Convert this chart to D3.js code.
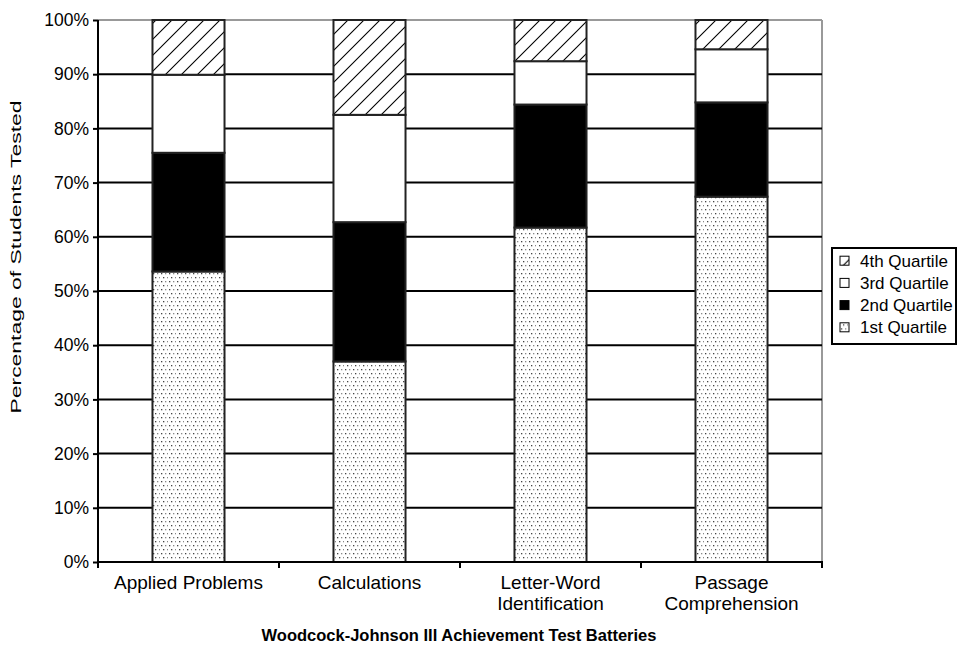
<!DOCTYPE html>
<html>
<head>
<meta charset="utf-8">
<script src="https://cdn.jsdelivr.net/npm/d3@7"></script>
<style>
  body { margin: 0; background: #fff; }
  svg { display: block; font-family: "Liberation Sans", Arial, sans-serif; }
</style>
</head>
<body>
<svg id="chart" width="959" height="645"></svg>
<script>
const categories = ["Applied Problems", "Calculations", "Letter-Word Identification", "Passage Comprehension"];
const categoryLines = [["Applied Problems"], ["Calculations"], ["Letter-Word", "Identification"], ["Passage", "Comprehension"]];
const quartile1 = [53.6, 37.0, 61.7, 67.4];
const quartile2 = [21.9, 25.7, 22.7, 17.4];
const quartile3 = [14.4, 19.8, 8.0, 9.8];
const quartile4 = [10.1, 17.5, 7.6, 5.4];
const seriesNames = ["1st Quartile", "2nd Quartile", "3rd Quartile", "4th Quartile"];
const yTicks = [0, 10, 20, 30, 40, 50, 60, 70, 80, 90, 100];
const yTitle = "Percentage of Students Tested";
const xTitle = "Woodcock-Johnson III Achievement Test Batteries";

(function () {
const svg = d3.select("#chart");
const mLeft = 98, mRight = 822, mTop = 20, mBottom = 562;

// patterns
const defs = svg.append("defs");
const hatch = defs.append("pattern").attr("id", "hatch").attr("patternUnits", "userSpaceOnUse")
  .attr("width", 16).attr("height", 16);
hatch.append("rect").attr("width", 16).attr("height", 16).attr("fill", "#fff");
hatch.append("path").attr("d", "M0,16 L16,0 M-4,4 L4,-4 M12,20 L20,12")
  .attr("stroke", "#000").attr("stroke-width", 1.1);
const dots = defs.append("pattern").attr("id", "dots").attr("patternUnits", "userSpaceOnUse")
  .attr("width", 8).attr("height", 8);
dots.append("rect").attr("width", 8).attr("height", 8).attr("fill", "#fff");
dots.append("rect").attr("x", 1).attr("y", 1).attr("width", 1.3).attr("height", 1.3).attr("fill", "#444");
dots.append("rect").attr("x", 5).attr("y", 1).attr("width", 1.3).attr("height", 1.3).attr("fill", "#888");
dots.append("rect").attr("x", 3).attr("y", 5).attr("width", 1.3).attr("height", 1.3).attr("fill", "#444");
dots.append("rect").attr("x", 7).attr("y", 5).attr("width", 1.3).attr("height", 1.3).attr("fill", "#888");

const fills = ["url(#dots)", "#000", "#fff", "url(#hatch)"];

const x = d3.scaleBand().domain(categories).range([mLeft, mRight]).paddingInner(0.602).paddingOuter(0.301);
const y = d3.scaleLinear().domain([0, 100]).range([mBottom, mTop]);

// plot border (grey top and right)
svg.append("line").attr("x1", mLeft).attr("x2", mRight).attr("y1", y(100)).attr("y2", y(100))
  .attr("stroke", "#999").attr("stroke-width", 2);
svg.append("line").attr("x1", mRight).attr("x2", mRight).attr("y1", y(100)).attr("y2", y(0))
  .attr("stroke", "#999").attr("stroke-width", 2);

// gridlines
svg.append("g").selectAll("line").data(yTicks.filter(d => d > 0 && d < 100)).join("line")
  .attr("x1", mLeft).attr("x2", mRight).attr("y1", d => y(d)).attr("y2", d => y(d))
  .attr("stroke", "#000").attr("stroke-width", 2);

// stacked bars
const rows = categories.map((c, i) => ({
  cat: c, "1st Quartile": quartile1[i], "2nd Quartile": quartile2[i],
  "3rd Quartile": quartile3[i], "4th Quartile": quartile4[i]
}));
const stack = d3.stack().keys(seriesNames)(rows);
svg.append("g").selectAll("g").data(stack).join("g")
  .attr("fill", (d, i) => fills[i])
  .selectAll("rect").data(d => d).join("rect")
  .attr("x", d => x(d.data.cat))
  .attr("width", x.bandwidth())
  .attr("y", d => y(d[1]))
  .attr("height", d => y(d[0]) - y(d[1]))
  .attr("stroke", "#222").attr("stroke-width", 2);

// y axis
const yAxis = svg.append("g").attr("transform", `translate(${mLeft},0)`)
  .call(d3.axisLeft(y).tickValues(yTicks).tickFormat(d => d + "%").tickSize(5).tickPadding(4));
yAxis.select(".domain").attr("stroke", "#000").attr("stroke-width", 2).attr("d", `M0,${mTop}V${mBottom + 6}`);
yAxis.selectAll(".tick line").attr("stroke", "#000").attr("stroke-width", 2);
yAxis.selectAll(".tick text").attr("font-size", 17.5).attr("font-family", "Liberation Sans, Arial, sans-serif").attr("fill", "#000");

// x axis
svg.append("line").attr("x1", mLeft).attr("x2", mRight + 1).attr("y1", mBottom).attr("y2", mBottom)
  .attr("stroke", "#000").attr("stroke-width", 2);
const step = x.step();
const half = (step - x.bandwidth()) / 2;
const boundaries = categories.map(c => x(c) + x.bandwidth() + half);
svg.append("g").selectAll("line").data(boundaries).join("line")
  .attr("x1", d => d).attr("x2", d => d).attr("y1", mBottom).attr("y2", mBottom + 6)
  .attr("stroke", "#000").attr("stroke-width", 2);

const labels = svg.append("g").selectAll("text").data(categories).join("text")
  .attr("x", d => x(d) + x.bandwidth() / 2)
  .attr("y", 589)
  .attr("text-anchor", "middle").attr("font-size", 19).attr("fill", "#000");
labels.each(function(d, i) {
  d3.select(this).selectAll("tspan").data(categoryLines[i]).join("tspan")
    .attr("x", x(d) + x.bandwidth() / 2)
    .attr("dy", (t, j) => j === 0 ? 0 : 21)
    .text(t => t);
});

// titles
svg.append("text").attr("x", 459).attr("y", 641).attr("text-anchor", "middle")
  .attr("font-size", 16.5).attr("font-weight", "bold").text(xTitle);
svg.append("text").attr("transform", `translate(21,257) rotate(-90)`)
  .attr("text-anchor", "middle").attr("font-size", 15.5)
  .attr("textLength", 313).attr("lengthAdjust", "spacingAndGlyphs").text(yTitle);

// legend
const lg = svg.append("g").attr("transform", "translate(832,248)");
lg.append("rect").attr("width", 124).attr("height", 96).attr("fill", "#fff").attr("stroke", "#000").attr("stroke-width", 2);
const legendOrder = [3, 2, 1, 0];
const li = lg.selectAll("g.item").data(legendOrder).join("g").attr("class", "item")
  .attr("transform", (d, i) => `translate(0,${12.7 + i * 22.2})`);
li.append("rect").attr("x", 8).attr("y", -4.5).attr("width", 9).attr("height", 9)
  .attr("fill", d => fills[d]).attr("stroke", "#000").attr("stroke-width", 1);
li.append("text").attr("x", 28).attr("y", 6).attr("font-size", 17).text(d => seriesNames[d]);
})();
</script>
</body>
</html>
